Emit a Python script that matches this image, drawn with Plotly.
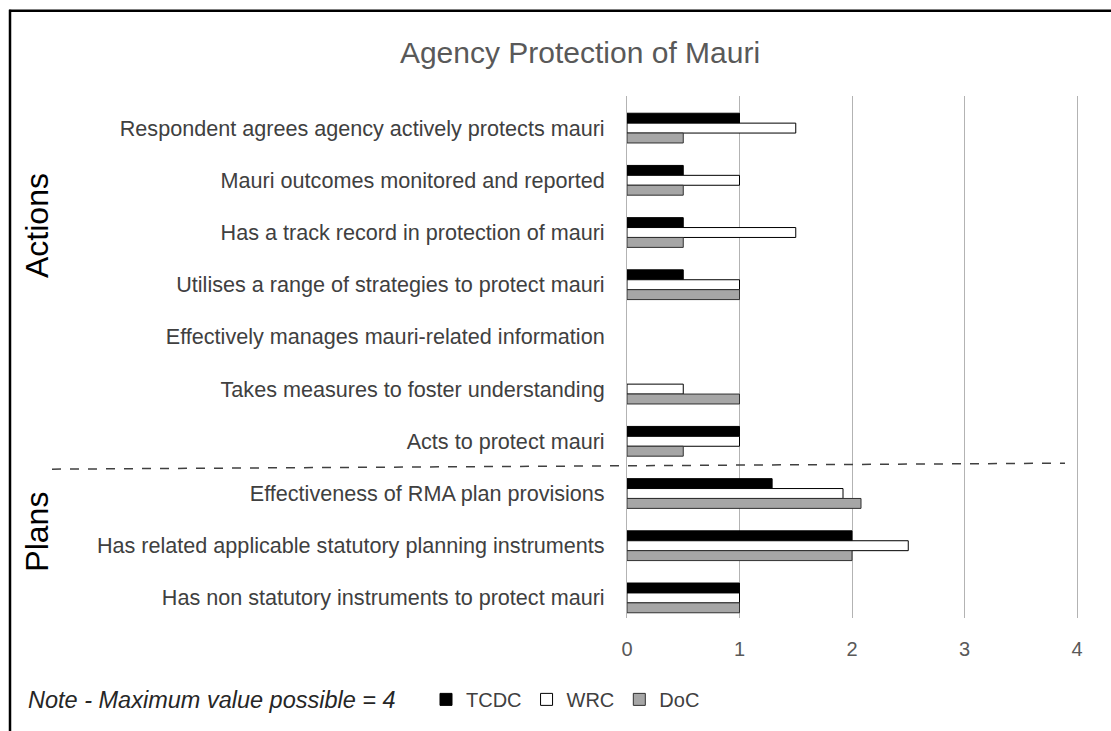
import plotly.graph_objects as go

categories = [
    "Respondent agrees agency actively protects mauri",
    "Mauri outcomes monitored and reported",
    "Has a track record in protection of mauri",
    "Utilises a range of strategies to protect mauri",
    "Effectively manages mauri-related information",
    "Takes measures to foster understanding",
    "Acts to protect mauri",
    "Effectiveness of RMA plan provisions",
    "Has related applicable statutory planning instruments",
    "Has non statutory instruments to protect mauri",
]
tcdc = [1, 0.5, 0.5, 0.5, 0, 0, 1, 1.29, 2, 1]
wrc = [1.5, 1, 1.5, 1, 0, 0.5, 1, 1.92, 2.5, 1]
doc = [0.5, 0.5, 0.5, 1, 0, 1, 0.5, 2.08, 2, 1]
x_ticks = [0, 1, 2, 3, 4]

W, H = 1111, 731
L, X4, T, B = 627, 1077, 96, 622   # x=0 and x=4 pixel positions, plot top/bottom
R = 1083                            # plot area right edge (a little beyond x=4)
x_max = 4 * (R - L) / (X4 - L)

def px(x):
    return (x - L) / (R - L)

def py(y):
    return (B - y) / (B - T)

FONT = "Liberation Sans, Arial, sans-serif"

def outline(vals):
    # no outline for empty (zero-length) bars
    return [0 if v == 0 else 1 for v in vals]

fig = go.Figure()
fig.add_trace(go.Bar(y=categories, x=tcdc, orientation="h", name="TCDC",
                     marker=dict(color="#000000", line=dict(color="#000000", width=outline(tcdc)))))
fig.add_trace(go.Bar(y=categories, x=wrc, orientation="h", name="WRC",
                     marker=dict(color="#ffffff", line=dict(color="#000000", width=outline(wrc)))))
fig.add_trace(go.Bar(y=categories, x=doc, orientation="h", name="DoC",
                     marker=dict(color="#a6a6a6", line=dict(color="#303030", width=outline(doc)))))

n = len(categories)
shift = 0.115  # category bands sit slightly below the plot-area centre

fig.update_layout(
    width=W, height=H,
    margin=dict(l=L, r=W - R, t=T, b=H - B, pad=0),
    paper_bgcolor="white", plot_bgcolor="white",
    barmode="group", bargap=0.43, bargroupgap=0,
    font=dict(family=FONT, color="#404040"),
    title=dict(text="Agency Protection of Mauri", x=580 / W, xref="container",
               xanchor="center", y=1 - 52 / H, yref="container", yanchor="middle",
               font=dict(size=30, color="#595959", family=FONT)),
    xaxis=dict(range=[0, x_max], tickvals=x_ticks, ticktext=[str(v) for v in x_ticks],
               showgrid=True, gridcolor="#b3b3b3", gridwidth=1, zeroline=False,
               showline=False, ticks="", ticklabelstandoff=17,
               tickfont=dict(size=20, color="#595959", family=FONT)),
    yaxis=dict(categoryorder="array", categoryarray=categories,
               range=[n - 0.5 - shift, -0.5 - shift],
               showgrid=False, zeroline=False, showline=True, linecolor="#b3b3b3",
               linewidth=1, ticks="", ticklabelstandoff=17,
               tickfont=dict(size=21.6, color="#404040", family=FONT)),
    legend=dict(orientation="h", x=px(426), xanchor="left", y=py(704), yanchor="middle",
                font=dict(size=20, color="#404040", family=FONT),
                itemwidth=30, bgcolor="rgba(0,0,0,0)", traceorder="normal"),
    showlegend=True,
)

shapes = [
    dict(type="line", xref="paper", yref="paper", x0=px(52), x1=px(1065),
         y0=py(472), y1=py(466), line=dict(color="#404040", width=1.5, dash="dash")),
    dict(type="line", xref="paper", yref="paper", x0=px(10), x1=px(10),
         y0=py(9), y1=py(H + 5), line=dict(color="#000000", width=2.5)),
    dict(type="line", xref="paper", yref="paper", x0=px(9), x1=px(W + 5),
         y0=py(10), y1=py(10), line=dict(color="#000000", width=2.5)),
]
fig.update_layout(shapes=shapes)

fig.add_annotation(text="Actions", xref="paper", yref="paper", x=px(37), y=py(227),
                   textangle=-90, showarrow=False, xanchor="center", yanchor="middle",
                   font=dict(size=32, color="#000000", family=FONT))
fig.add_annotation(text="Plans", xref="paper", yref="paper", x=px(37), y=py(535),
                   textangle=-90, showarrow=False, xanchor="center", yanchor="middle",
                   font=dict(size=32, color="#000000", family=FONT))
fig.add_annotation(text="<i>Note - Maximum value possible = 4</i>", xref="paper", yref="paper",
                   x=px(26), y=py(705), showarrow=False, xanchor="left", yanchor="middle",
                   font=dict(size=23.5, color="#262626", family=FONT))

fig.write_html("out.html", config={"displayModeBar": False},
               post_script="document.body.style.margin='0';document.body.style.overflow='hidden';")
